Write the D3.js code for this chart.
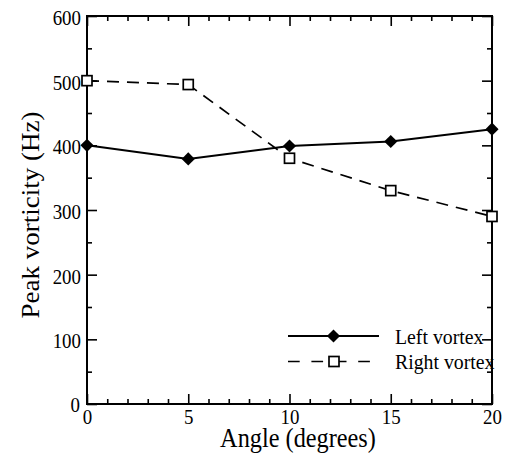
<!DOCTYPE html>
<html>
<head>
<meta charset="utf-8">
<script src="https://cdn.jsdelivr.net/npm/d3@7"></script>
<style>
  body { margin: 0; background: #fff; }
  text { font-family: "Liberation Serif", "Times New Roman", serif; fill: #000; }
</style>
</head>
<body>
<script>
const angles = [0, 5, 10, 15, 20]
const leftVortex = [400, 379, 399, 406, 425]
const rightVortex = [500, 494, 380, 330, 290]
const xTicks = [0, 5, 10, 15, 20]
const yTicks = [0, 100, 200, 300, 400, 500, 600]
const seriesNames = ['Left vortex', 'Right vortex']

const width = 506
const height = 453
const margin = { top: 16, right: 14, bottom: 49, left: 87 }
const sx = 'scale(0.9,1)'

const svg = d3.select('body').append('svg')
  .attr('width', width)
  .attr('height', height)

const x = d3.scaleLinear().domain([0, 20]).range([margin.left, width - margin.right])
const y = d3.scaleLinear().domain([0, 600]).range([height - margin.bottom, margin.top])

const x0 = x.range()[0], x1 = x.range()[1]
const y0 = y.range()[0], y1 = y.range()[1]

const xMinor = d3.range(0, 21, 1).filter(d => d % 5 !== 0)
const yMinor = d3.range(50, 600, 100)

function styleAxis (g) {
  g.select('.domain').remove()
  g.selectAll('line').attr('stroke', '#000').attr('stroke-width', 1.6)
}

// minor ticks, all four sides
svg.append('g').attr('transform', `translate(0,${y0})`)
  .call(d3.axisBottom(x).tickValues(xMinor).tickSize(-5).tickFormat(''))
  .call(styleAxis)
svg.append('g').attr('transform', `translate(0,${y1})`)
  .call(d3.axisTop(x).tickValues(xMinor).tickSize(-5).tickFormat(''))
  .call(styleAxis)
svg.append('g').attr('transform', `translate(${x0},0)`)
  .call(d3.axisLeft(y).tickValues(yMinor).tickSize(-5).tickFormat(''))
  .call(styleAxis)
svg.append('g').attr('transform', `translate(${x1},0)`)
  .call(d3.axisRight(y).tickValues(yMinor).tickSize(-5).tickFormat(''))
  .call(styleAxis)

// major ticks
svg.append('g').attr('transform', `translate(0,${y0})`)
  .call(d3.axisBottom(x).tickValues(xTicks).tickSize(-10).tickFormat(d3.format('d')))
  .call(styleAxis)
  .call(g => g.selectAll('text')
    .attr('y', 0).attr('dy', 0)
    .attr('transform', `translate(0,20) ${sx}`)
    .style('font-size', '21px'))
svg.append('g').attr('transform', `translate(0,${y1})`)
  .call(d3.axisTop(x).tickValues(xTicks).tickSize(-10).tickFormat(''))
  .call(styleAxis)
svg.append('g').attr('transform', `translate(${x0},0)`)
  .call(d3.axisLeft(y).tickValues(yTicks).tickSize(-10).tickFormat(d3.format('d')))
  .call(styleAxis)
  .call(g => g.selectAll('text')
    .attr('x', 0).attr('dy', 0)
    .attr('transform', d => d === 0 ? `translate(-7,7) ${sx}` : `translate(-6,8.5) ${sx}`)
    .style('font-size', '21px'))
svg.append('g').attr('transform', `translate(${x1},0)`)
  .call(d3.axisRight(y).tickValues(yTicks).tickSize(-10).tickFormat(''))
  .call(styleAxis)

// frame
svg.append('rect')
  .attr('x', x0).attr('y', y1)
  .attr('width', x1 - x0).attr('height', y0 - y1)
  .attr('fill', 'none').attr('stroke', '#000').attr('stroke-width', 2)

const line = d3.line().x(d => x(d[0])).y(d => y(d[1]))
const leftData = angles.map((a, i) => [a, leftVortex[i]])
const rightData = angles.map((a, i) => [a, rightVortex[i]])

svg.append('path')
  .datum(rightData)
  .attr('d', line)
  .attr('fill', 'none').attr('stroke', '#000')
  .attr('stroke-width', 1.7).attr('stroke-dasharray', '12,8')

svg.append('path')
  .datum(leftData)
  .attr('d', line)
  .attr('fill', 'none').attr('stroke', '#000').attr('stroke-width', 2)

const diamond = d3.symbol().type(d3.symbolDiamond2).size(110)

svg.selectAll('.left-pt')
  .data(leftData).enter().append('path')
  .attr('class', 'left-pt')
  .attr('transform', d => `translate(${x(d[0])},${y(d[1])})`)
  .attr('d', diamond)
  .attr('fill', '#000')

svg.selectAll('.right-pt')
  .data(rightData).enter().append('rect')
  .attr('class', 'right-pt')
  .attr('x', d => x(d[0]) - 5).attr('y', d => y(d[1]) - 5)
  .attr('width', 10).attr('height', 10)
  .attr('fill', '#fff').attr('stroke', '#000').attr('stroke-width', 1.7)

// legend
const legend = svg.append('g')
const ly = [336, 361.5]
legend.append('line')
  .attr('x1', 288).attr('x2', 379).attr('y1', ly[0]).attr('y2', ly[0])
  .attr('stroke', '#000').attr('stroke-width', 2)
legend.append('path')
  .attr('transform', `translate(333.5,${ly[0]})`)
  .attr('d', diamond).attr('fill', '#000')
legend.append('line')
  .attr('x1', 288).attr('x2', 379).attr('y1', ly[1]).attr('y2', ly[1])
  .attr('stroke', '#000').attr('stroke-width', 1.7).attr('stroke-dasharray', '11.7,11.7')
legend.append('rect')
  .attr('x', 329).attr('y', ly[1] - 5).attr('width', 10).attr('height', 10)
  .attr('fill', '#fff').attr('stroke', '#000').attr('stroke-width', 1.7)
legend.selectAll('text')
  .data(seriesNames).enter().append('text')
  .attr('transform', (d, i) => `translate(395,${ly[i] + 7.5}) ${sx}`)
  .style('font-size', '22px')
  .text(d => d)

// axis titles
svg.append('text')
  .attr('transform', `translate(298,447) ${sx}`)
  .attr('text-anchor', 'middle')
  .style('font-size', '27px')
  .text('Angle (degrees)')

svg.append('text')
  .attr('transform', `translate(39,215) ${sx} rotate(-90)`)
  .attr('text-anchor', 'middle')
  .style('font-size', '27px')
  .text('Peak vorticity (Hz)')
</script>
</body>
</html>
